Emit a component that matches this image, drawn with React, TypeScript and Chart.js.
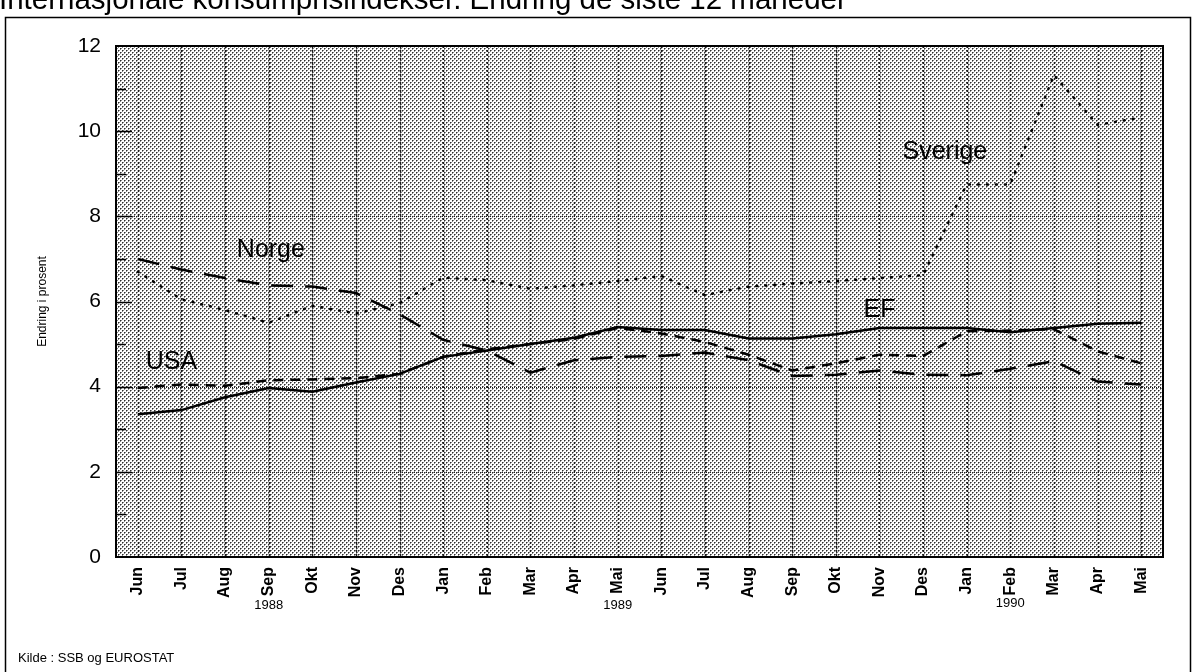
import React, { useEffect, useRef } from 'react';
import { Chart, registerables } from 'chart.js';

Chart.register(...registerables);

const months = ['Jun', 'Jul', 'Aug', 'Sep', 'Okt', 'Nov', 'Des', 'Jan', 'Feb', 'Mar', 'Apr', 'Mai',
  'Jun', 'Jul', 'Aug', 'Sep', 'Okt', 'Nov', 'Des', 'Jan', 'Feb', 'Mar', 'Apr', 'Mai'];

const efValues = [3.35, 3.45, 3.75, 3.97, 3.88, 4.1, 4.3, 4.7, 4.85, 5.0, 5.15, 5.4,
  5.33, 5.33, 5.13, 5.13, 5.23, 5.38, 5.38, 5.38, 5.28, 5.38, 5.48, 5.5];
const usaValues = [3.97, 4.05, 4.02, 4.15, 4.17, 4.2, 4.3, 4.7, 4.88, 5.0, 5.12, 5.38,
  5.25, 5.05, 4.75, 4.38, 4.55, 4.75, 4.72, 5.3, 5.32, 5.35, 4.83, 4.55];
const norgeValues = [7.0, 6.75, 6.55, 6.38, 6.35, 6.2, 5.7, 5.1, 4.85, 4.33, 4.62, 4.7,
  4.72, 4.8, 4.62, 4.25, 4.28, 4.38, 4.28, 4.27, 4.42, 4.6, 4.12, 4.05];
const sverigeValues = [6.7, 6.05, 5.8, 5.5, 5.9, 5.72, 5.96, 6.56, 6.5, 6.3, 6.38, 6.48,
  6.6, 6.15, 6.35, 6.42, 6.48, 6.55, 6.62, 8.75, 8.75, 11.32, 10.15, 10.32];

const gridValues = [2, 4, 8];
const seriesNames = ['Norge', 'Sverige', 'EF', 'USA'];
const nameAtIndex = [3.05, 18.5, 17.0, 0.77];
const nameAtValue = [7.2, 9.5, 5.8, 4.58];
const yearLabels = ['1988', '1989', '1990'];
const yearAtIndex = [3, 11, 20];
const titleText = 'Internasjonale konsumprisindekser. Endring de siste 12 måneder';
const sourceText = 'Kilde : SSB og EUROSTAT';
const yAxisTitle = 'Endring i prosent';

const FONT = '"Liberation Sans", Arial, Helvetica, sans-serif';

export default function App() {
  const ref = useRef<HTMLCanvasElement | null>(null);

  useEffect(() => {
    const canvas = ref.current;
    if (!canvas) return;

    const pc = document.createElement('canvas');
    pc.width = 4;
    pc.height = 4;
    const p = pc.getContext('2d')!;
    p.fillStyle = '#ffffff';
    p.fillRect(0, 0, 4, 4);
    p.fillStyle = '#888888';
    p.fillRect(1, 0, 1, 1);
    p.fillRect(0, 1, 1, 1);
    p.fillRect(3, 2, 1, 1);
    p.fillRect(2, 3, 1, 1);
    p.fillStyle = '#303030';
    p.fillRect(0, 0, 1, 1);
    p.fillRect(2, 2, 1, 1);

    const decor = {
      id: 'decor',
      beforeDraw(chart: any) {
        const { ctx, chartArea: a } = chart;
        ctx.save();
        ctx.fillStyle = '#ffffff';
        ctx.fillRect(0, 0, chart.width, chart.height);
        // title (partly cut at top)
        ctx.fillStyle = '#000';
        ctx.font = `29.5px ${FONT}`;
        ctx.textBaseline = 'alphabetic';
        ctx.textAlign = 'left';
        ctx.fillText(titleText, -1, 9);
        // outer frame
        ctx.strokeStyle = '#000';
        ctx.lineWidth = 1.5;
        ctx.strokeRect(5.5, 17.5, 1185, 700);
        // plot background pattern
        const pat = ctx.createPattern(pc, 'repeat');
        ctx.fillStyle = pat;
        ctx.fillRect(a.left, a.top, a.right - a.left, a.bottom - a.top);
        ctx.restore();
      },
      beforeDatasetsDraw(chart: any) {
        const { ctx, chartArea: a, scales } = chart;
        const xs = scales.x;
        const ys = scales.y;
        ctx.save();
        // vertical gridlines
        ctx.strokeStyle = '#1a1a1a';
        ctx.lineWidth = 1.5;
        ctx.setLineDash([2, 2]);
        for (let i = 0; i < months.length; i++) {
          const x = Math.round(xs.getPixelForValue(i)) + 0.5;
          ctx.beginPath();
          ctx.moveTo(x, a.top);
          ctx.lineTo(x, a.bottom);
          ctx.stroke();
        }
        // horizontal gridlines
        ctx.lineWidth = 1;
        ctx.setLineDash([1, 1]);
        ctx.strokeStyle = '#222';
        gridValues.forEach((v) => {
          const y = Math.round(ys.getPixelForValue(v)) + 0.5;
          ctx.beginPath();
          ctx.moveTo(a.left, y);
          ctx.lineTo(a.right, y);
          ctx.stroke();
        });
        ctx.setLineDash([]);
        // inner tick marks on left edge
        ctx.strokeStyle = '#000';
        ctx.lineWidth = 1.5;
        for (let v = 1; v < 12; v++) {
          const y = Math.round(ys.getPixelForValue(v)) + 0.5;
          const len = v % 2 === 0 ? 16 : 10;
          ctx.beginPath();
          ctx.moveTo(a.left, y);
          ctx.lineTo(a.left + len, y);
          ctx.stroke();
        }
        // plot border
        ctx.lineWidth = 2;
        ctx.strokeRect(a.left, a.top, a.right - a.left, a.bottom - a.top);
        ctx.restore();
      },
      afterDatasetsDraw(chart: any) {
        const { ctx, chartArea: a, scales } = chart;
        const xs = scales.x;
        const ys = scales.y;
        ctx.save();
        ctx.fillStyle = '#000';
        // series names
        ctx.font = `25px ${FONT}`;
        ctx.textAlign = 'center';
        ctx.textBaseline = 'middle';
        seriesNames.forEach((n, i) => {
          const x0 = xs.getPixelForValue(Math.floor(nameAtIndex[i]));
          const x1 = xs.getPixelForValue(Math.floor(nameAtIndex[i]) + 1);
          const x = x0 + (x1 - x0) * (nameAtIndex[i] - Math.floor(nameAtIndex[i]));
          ctx.fillText(n, x, ys.getPixelForValue(nameAtValue[i]));
        });
        // year labels
        ctx.font = `13px ${FONT}`;
        ctx.textBaseline = 'middle';
        yearLabels.forEach((t, i) => {
          const x = xs.getPixelForValue(yearAtIndex[i]);
          const dy = i === 2 ? 46 : 48;
          ctx.fillText(t, x, a.bottom + dy);
        });
        // source
        ctx.textAlign = 'left';
        ctx.textBaseline = 'alphabetic';
        ctx.font = `13px ${FONT}`;
        ctx.fillText(sourceText, 18, 662);
        // y axis title
        ctx.translate(43, (a.top + a.bottom) / 2);
        ctx.rotate(-Math.PI / 2);
        ctx.textAlign = 'center';
        ctx.textBaseline = 'middle';
        ctx.font = `12px ${FONT}`;
        ctx.fillText(yAxisTitle, 0, 0);
        ctx.restore();
      },
    };

    const chart = new Chart(canvas, {
      type: 'line',
      data: {
        labels: months,
        datasets: [
          {
            label: 'EF',
            data: efValues,
            borderColor: '#000',
            borderWidth: 2.5,
            pointRadius: 0,
            tension: 0,
          },
          {
            label: 'USA',
            data: usaValues,
            borderColor: '#000',
            borderWidth: 2.5,
            borderDash: [10, 7],
            pointRadius: 0,
            tension: 0,
          },
          {
            label: 'Norge',
            data: norgeValues,
            borderColor: '#000',
            borderWidth: 2.5,
            borderDash: [22, 12],
            pointRadius: 0,
            tension: 0,
          },
          {
            label: 'Sverige',
            data: sverigeValues,
            borderColor: '#000',
            borderWidth: 2.5,
            borderDash: [1, 8],
            borderCapStyle: 'round',
            pointRadius: 0,
            tension: 0,
          },
        ],
      },
      options: {
        responsive: false,
        animation: false,
        devicePixelRatio: 1,
        layout: { padding: { top: 46, right: 34, left: 0, bottom: 0 } },
        plugins: {
          legend: { display: false },
          tooltip: { enabled: false },
          title: { display: false },
        },
        scales: {
          x: {
            type: 'category',
            offset: true,
            grid: { display: false, drawTicks: false },
            border: { display: false },
            ticks: {
              autoSkip: false,
              minRotation: 90,
              maxRotation: 90,
              padding: 10,
              color: '#000',
              font: { family: FONT, size: 16, weight: 'bold' },
            },
            afterFit(scale: any) {
              scale.height = 115;
            },
          },
          y: {
            min: 0,
            max: 12,
            grid: { display: false, drawTicks: false },
            border: { display: false },
            ticks: {
              stepSize: 2,
              padding: 15,
              color: '#000',
              font: { family: FONT, size: 21 },
            },
            afterFit(scale: any) {
              scale.width = 116;
            },
          },
        },
      },
      plugins: [decor],
    } as any);

    return () => chart.destroy();
  }, []);

  return (
    <div style={{ position: 'fixed', left: 0, top: 0, width: 1197, height: 672, background: '#fff' }}>
      <canvas ref={ref} width={1197} height={672} style={{ display: 'block', width: 1197, height: 672 }} />
    </div>
  );
}
